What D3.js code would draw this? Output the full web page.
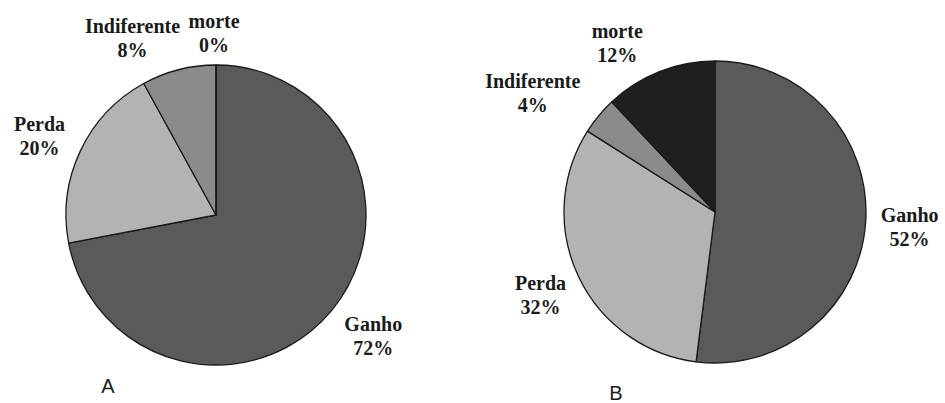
<!DOCTYPE html>
<html>
<head>
<meta charset="utf-8">
<script src="https://cdn.jsdelivr.net/npm/d3@7"></script>
<style>
  html, body { margin: 0; padding: 0; background: #ffffff; }
  svg { display: block; }
</style>
</head>
<body>
<svg id="chart" width="945" height="403"></svg>
<script>
// Outcome categories, in clockwise order starting at 12 o'clock
const categories = ["Ganho", "Perda", "Indiferente", "morte"];
// Percentages for each panel
const valuesA = [72, 20, 8, 0];
const valuesB = [52, 32, 4, 12];
const panelNames = ["A", "B"];

const sliceColors = {
  "Ganho": "#5a5a5a",
  "Perda": "#b3b3b3",
  "Indiferente": "#8b8b8b",
  "morte": "#1f1f1f"
};

// Panel geometry and small label nudges (relative to the slice mid-angle)
const panels = [
  { name: panelNames[0], values: valuesA, cx: 216, cy: 215, r: 150,
    letter: { x: 108, y: 393 },
    nudge: { "Ganho": [7, -8], "Perda": [0, -1], "Indiferente": [-35, 7], "morte": [-2, 8] } },
  { name: panelNames[1], values: valuesB, cx: 715, cy: 212, r: 151,
    letter: { x: 616, y: 400 },
    nudge: { "Ganho": [0, -2], "Perda": [2, -5], "Indiferente": [-32, 0], "morte": [-26, 7] } }
];

const svg = d3.select("#chart");
const pie = d3.pie().sort(null).value(d => d.value);

panels.forEach(p => {
  const data = categories.map((c, i) => ({ cat: c, value: p.values[i] }));
  const arcs = pie(data);
  const arc = d3.arc().innerRadius(0).outerRadius(p.r);
  const labelArc = d3.arc().innerRadius(195).outerRadius(195);

  const g = svg.append("g").attr("transform", `translate(${p.cx},${p.cy})`);

  g.selectAll("path")
    .data(arcs)
    .join("path")
    .attr("d", arc)
    .attr("fill", d => sliceColors[d.data.cat])
    .attr("stroke", "#1a1a1a")
    .attr("stroke-width", 1.3)
    .attr("stroke-linejoin", "round");

  const labels = g.selectAll("text.lbl")
    .data(arcs)
    .join("text")
    .attr("class", "lbl")
    .attr("text-anchor", "middle")
    .attr("font-family", "'Liberation Serif', 'Times New Roman', serif")
    .attr("font-weight", "bold")
    .attr("font-size", 20)
    .attr("fill", "#1a1a1a")
    .attr("transform", d => {
      const [x, y] = labelArc.centroid(d);
      const n = p.nudge[d.data.cat];
      return `translate(${x + n[0]},${y + n[1]})`;
    });

  labels.append("tspan").attr("x", 0).attr("y", 0).text(d => d.data.cat);
  labels.append("tspan").attr("x", 0).attr("y", 24).text(d => d.data.value + "%");

  svg.append("text")
    .attr("x", p.letter.x)
    .attr("y", p.letter.y)
    .attr("text-anchor", "middle")
    .attr("font-family", "'Liberation Sans', Arial, sans-serif")
    .attr("font-size", 20)
    .attr("fill", "#1a1a1a")
    .text(p.name);
});
</script>
</body>
</html>
